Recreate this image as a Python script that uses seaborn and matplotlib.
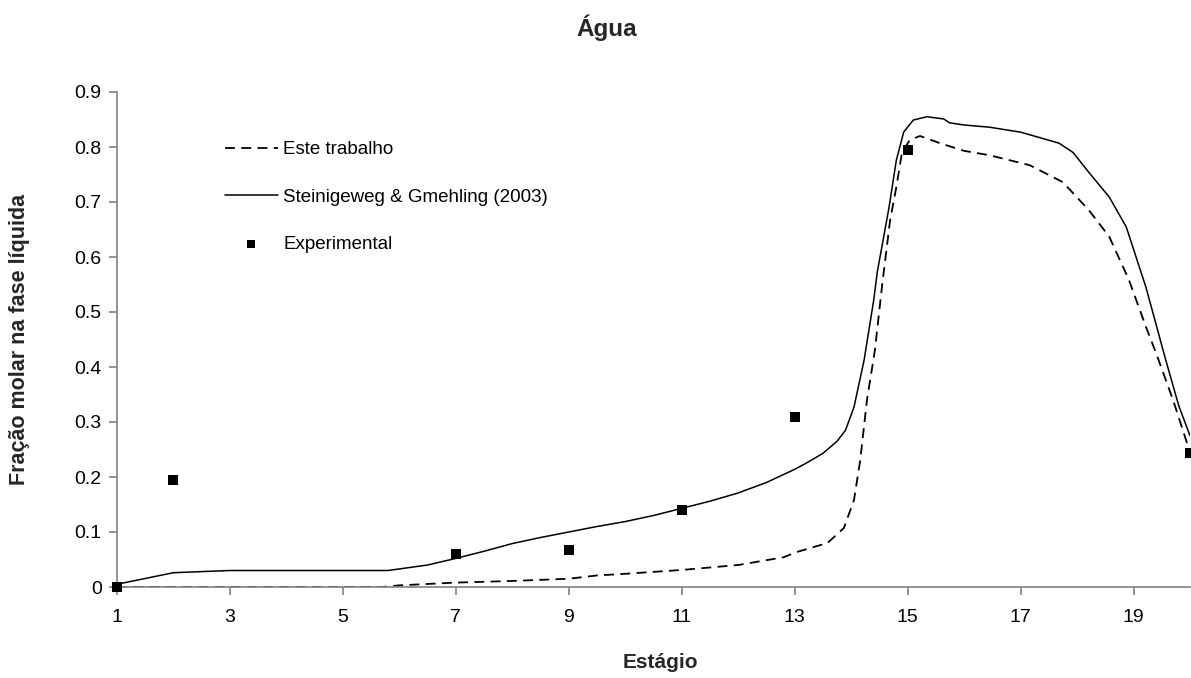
import matplotlib
matplotlib.use("Agg")
import matplotlib.pyplot as plt
import seaborn as sns

# ---- data ----
solid_x = [1, 2, 3, 4, 5, 5.8, 6.5, 7, 7.5, 8, 8.5, 9, 9.5, 10, 10.5, 11, 11.5, 12,
           12.5, 13, 13.2, 13.5, 13.75, 13.9, 14.05, 14.23, 14.4, 14.46, 14.67, 14.8,
           14.93, 15.1, 15.34, 15.64, 15.74, 16.0, 16.45, 17.0, 17.68, 17.93, 18.2,
           18.57, 18.87, 19.22, 19.57, 19.8, 20]
solid_y = [0.005, 0.026, 0.03, 0.03, 0.03, 0.03, 0.04, 0.052, 0.065, 0.079, 0.09, 0.1,
           0.11, 0.119, 0.13, 0.143, 0.156, 0.171, 0.19, 0.214, 0.225, 0.243, 0.265,
           0.285, 0.327, 0.413, 0.522, 0.571, 0.69, 0.776, 0.827, 0.849, 0.855, 0.851,
           0.844, 0.84, 0.836, 0.827, 0.807, 0.79, 0.755, 0.709, 0.655, 0.545, 0.413,
           0.33, 0.275]

dashed_x = [1, 2, 3, 4, 5, 5.7, 6, 7, 8, 9, 9.5, 10, 11, 12, 12.8, 13.05, 13.58, 13.87,
            14.05, 14.16, 14.28, 14.42, 14.55, 14.69, 14.8, 14.9, 15.04, 15.22, 15.6,
            16.0, 16.45, 17.16, 17.75, 18.21, 18.57, 18.92, 19.22, 19.4, 19.7, 20]
dashed_y = [0, 0, 0, 0, 0, 0, 0.003, 0.008, 0.011, 0.015, 0.021, 0.024, 0.031, 0.04,
            0.054, 0.064, 0.08, 0.107, 0.158, 0.23, 0.34, 0.43, 0.55, 0.667, 0.727,
            0.79, 0.813, 0.82, 0.806, 0.793, 0.785, 0.767, 0.736, 0.685, 0.637, 0.558,
            0.473, 0.425, 0.34, 0.245]

exp_x = [1, 2, 7, 9, 11, 13, 15, 20]
exp_y = [0.0, 0.195, 0.06, 0.068, 0.14, 0.31, 0.795, 0.243]

x_ticks = [1, 3, 5, 7, 9, 11, 13, 15, 17, 19]
y_ticks = [0, 0.1, 0.2, 0.3, 0.4, 0.5, 0.6, 0.7, 0.8, 0.9]
y_ticklabels = ["0", "0.1", "0.2", "0.3", "0.4", "0.5", "0.6", "0.7", "0.8", "0.9"]

labels = ["Este trabalho", "Steinigeweg & Gmehling (2003)", "Experimental"]

# ---- plot ----
sns.set_theme(style="white")
plt.rcParams["font.family"] = ["Liberation Sans", "DejaVu Sans"]

W, H = 1191, 678
fig = plt.figure(figsize=(W / 100, H / 100), dpi=100)
left, right, top, bottom = 117, 1190, 92, 587
ax = fig.add_axes([left / W, 1 - bottom / H, (right - left) / W, (bottom - top) / H])
ax.set_facecolor("white")

sns.lineplot(x=dashed_x, y=dashed_y, ax=ax, color="black", linewidth=1.3,
             linestyle=(0, (5.5, 3.5)), label=labels[0], sort=False)
sns.lineplot(x=solid_x, y=solid_y, ax=ax, color="black", linewidth=1.1,
             label=labels[1], sort=False)
sns.scatterplot(x=exp_x, y=exp_y, ax=ax, color="black", marker="s", s=42,
                edgecolor="black", linewidth=0, label=labels[2], zorder=5, clip_on=False)

ax.set_xlim(1, 20)
ax.set_ylim(0, 0.9)
ax.set_xticks(x_ticks)
ax.set_yticks(y_ticks)
ax.set_yticklabels(y_ticklabels)

for s in ["top", "right"]:
    ax.spines[s].set_visible(False)
for s in ["left", "bottom"]:
    ax.spines[s].set_color("#808080")
    ax.spines[s].set_linewidth(1.2)

ax.tick_params(axis="both", which="major", direction="out", length=6, width=1.2,
               color="#808080", labelsize=14, labelcolor="black", left=True, bottom=True)
ax.tick_params(axis="x", pad=10)
ax.tick_params(axis="y", pad=5)

ax.set_xlabel("")
ax.set_ylabel("")
fig.text(660 / W, 1 - 663 / H, "Estágio", ha="center", va="center",
         fontsize=15, fontweight="bold")
fig.text(20 / W, 1 - 339 / H, "Fração molar na fase líquida", ha="center", va="center",
         rotation=90, fontsize=15.5, fontweight="bold")
fig.text(607 / W, 1 - 28 / H, "Água", ha="center", va="center",
         fontsize=17.5, fontweight="bold")

leg = ax.legend(loc="upper left", bbox_to_anchor=(225 / W, 1 - 141 / H),
                bbox_transform=fig.transFigure, frameon=False, fontsize=13.5,
                handlelength=2.8, handletextpad=0.3, labelspacing=1.62,
                borderpad=0, borderaxespad=0, markerscale=0.8)
for t in leg.get_texts():
    t.set_color("black")

fig.savefig("out.png", dpi=100, facecolor="white")
